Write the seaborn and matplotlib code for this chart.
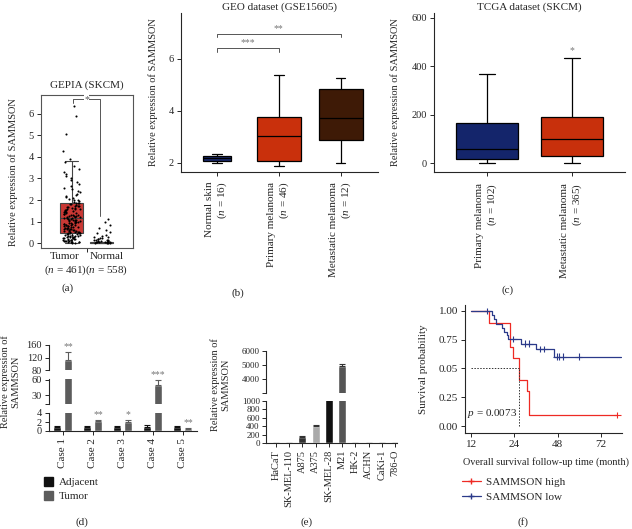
import numpy as np
import pandas as pd
import matplotlib
matplotlib.use("Agg")
import matplotlib.pyplot as plt
import seaborn as sns
from matplotlib.lines import Line2D
from matplotlib.patches import Patch

# -------------------------
# DATA
# -------------------------
# (a) GEPIA (SKCM)
gepia_groups = ["Tumor", "Normal"]
gepia_ticklabels = ["Tumor\n($\\mathit{n}$ = 461)", "Normal\n($\\mathit{n}$ = 558)"]
gepia_box_tumor = [0.02, 0.45, 1.15, 1.85, 3.8]
gepia_box_normal = [0.0, 0.01, 0.02, 0.04, 0.06]
gepia_pts_tumor = [
    0.01, 0.02, 0.03, 0.04, 0.05, 0.07, 0.08, 0.1, 0.11, 0.13, 0.14, 0.16, 0.18, 0.19, 0.21,
    0.23, 0.24, 0.26, 0.28, 0.3, 0.31, 0.33, 0.35, 0.36, 0.38, 0.4, 0.41, 0.43, 0.45, 0.47,
    0.48, 0.5, 0.52, 0.53, 0.55, 0.57, 0.59, 0.6, 0.62, 0.64, 0.66, 0.67, 0.69, 0.71, 0.73,
    0.74, 0.76, 0.78, 0.8, 0.82, 0.84, 0.85, 0.87, 0.89, 0.91, 0.93, 0.95, 0.97, 0.99, 1.01,
    1.03, 1.05, 1.07, 1.09, 1.11, 1.13, 1.15, 1.17, 1.19, 1.21, 1.23, 1.26, 1.28, 1.3, 1.32,
    1.35, 1.37, 1.4, 1.42, 1.45, 1.47, 1.5, 1.53, 1.56, 1.58, 1.61, 1.64, 1.67, 1.7, 1.74,
    1.77, 1.8, 1.84, 1.88, 1.92, 1.96, 2.0, 2.05, 2.1, 2.14, 2.2, 2.25, 2.3, 2.36, 2.42,
    2.5, 2.57, 2.65, 2.74, 2.83, 2.92, 3.0, 3.1, 3.2, 3.32, 3.45, 3.6, 3.75, 3.9, 4.3,
    5.05, 5.9, 6.35,
    0.06, 0.15, 0.27, 0.39, 0.51, 0.63, 0.77, 0.9, 1.02, 1.16, 1.29, 1.43, 1.57, 1.72, 1.86,
    0.09, 0.22, 0.34, 0.46, 0.58, 0.7, 0.83, 0.96, 1.08, 1.24, 1.38, 1.52, 1.66, 1.82, 1.98,
]
gepia_pts_normal = [
    0.0, 0.01, 0.02, 0.02, 0.03, 0.04, 0.05, 0.05, 0.06, 0.07, 0.08, 0.09, 0.1, 0.11, 0.12,
    0.13, 0.15, 0.16, 0.18, 0.2, 0.22, 0.25, 0.28, 0.3, 0.33, 0.38, 0.45, 0.5, 0.6, 0.7,
    0.85, 1.0, 1.1,
]

# (b) GEO dataset (GSE15605) - whisker low, Q1, median, Q3, whisker high
geo_groups = ["Normal skin", "Primary melanoma", "Metastatic melanoma"]
geo_n = [16, 46, 12]
geo_normal = [2.0, 2.07, 2.17, 2.27, 2.35]
geo_primary = [1.9, 2.08, 3.02, 3.75, 5.4]
geo_metastatic = [2.0, 2.9, 3.72, 4.85, 5.28]

# (c) TCGA dataset (SKCM)
tcga_groups = ["Primary melanoma", "Metastatic melanoma"]
tcga_n = [102, 365]
tcga_primary = [0, 15, 60, 165, 368]
tcga_metastatic = [0, 30, 98, 192, 435]

# (d) paired tissues
case_labels = ["Case 1", "Case 2", "Case 3", "Case 4", "Case 5"]
adjacent_mean = [0.95, 1.0, 0.95, 1.0, 1.0]
adjacent_err = [0.12, 0.15, 0.15, 0.25, 0.12]
tumor_mean = [111, 2.2, 1.9, 50, 0.5]
tumor_err = [28, 0.35, 0.5, 9, 0.18]
case_stars = ["**", "**", "*", "***", "**"]

# (e) cell lines
cell_lines = ["HaCaT", "SK-MEL-110", "A875", "A375", "SK-MEL-28", "M21",
              "HK-2", "ACHN", "CaKi-1", "786-O"]
cell_expr = [1, 2, 150, 410, 1100, 4950, 1, 1, 1, 1]
cell_err = [0, 0, 20, 15, 0, 150, 0, 0, 0, 0]

# (f) Kaplan-Meier (x in axis units; ticks read 12, 24, 48, 72)
km_high_time = [12, 17.0, 22.8, 23.7, 25.3, 27.6, 27.9, 52.5]
km_high_surv = [1.0, 0.893, 0.69, 0.594, 0.40, 0.30, 0.095, 0.095]
km_low_time = [12, 17.8, 18.3, 18.8, 20.6, 21.2, 21.8, 22.3, 25.8, 30.1, 34.9, 53.6]
km_low_surv = [1.0, 0.965, 0.93, 0.885, 0.85, 0.82, 0.79, 0.755, 0.715, 0.667, 0.603, 0.603]
km_high_cens_time = [52.5]
km_high_cens_surv = [0.095]
km_low_cens_time = [16.5, 23.7, 27.0, 28.1, 31.1, 32.3, 35.7, 36.4, 37.4, 41.8]
km_low_cens_surv = [1.0, 0.755, 0.715, 0.715, 0.667, 0.667, 0.603, 0.603, 0.603, 0.603]
km_median = 25.3
km_xticklabels = ["12", "24", "48", "72"]
km_yticklabels = ["0.00", "0.25", "0.05", "0.75", "1.00"]

# -------------------------
# STYLE
# -------------------------
sns.set_style("ticks")
plt.rcParams["font.family"] = ["Liberation Serif", "DejaVu Serif"]
plt.rcParams["mathtext.fontset"] = "custom"
plt.rcParams["mathtext.rm"] = "Liberation Serif"
plt.rcParams["mathtext.it"] = "Liberation Serif:italic"
plt.rcParams["font.size"] = 7.5
plt.rcParams["axes.linewidth"] = 0.8
for k in ["xtick", "ytick"]:
    plt.rcParams[k + ".major.size"] = 3
    plt.rcParams[k + ".major.width"] = 0.7
    plt.rcParams[k + ".minor.size"] = 3
    plt.rcParams[k + ".minor.width"] = 0.7
    plt.rcParams[k + ".labelsize"] = 7.5
    plt.rcParams[k + ".major.pad"] = 2

W, H = 632, 529
fig = plt.figure(figsize=(W / 100, H / 100), dpi=100)


def add_ax(l, t, r, b):
    return fig.add_axes([l / W, 1 - b / H, (r - l) / W, (b - t) / H])


def ptext(x, y, s, **kw):
    fig.text(x / W, 1 - y / H, s, ha="center", va="center", **kw)


def open_axes(ax):
    sns.despine(ax=ax)
    ax.set_xlabel("")
    ax.set_ylabel("")


star_col = "#777777"

# -------------------------
# (a) GEPIA
# -------------------------
ax = add_ax(41, 95, 133, 248)
df_box = pd.DataFrame({"group": ["Tumor"] * 5 + ["Normal"] * 5,
                       "value": gepia_box_tumor + gepia_box_normal})
sns.boxplot(data=df_box, x="group", y="value", order=gepia_groups, hue="group",
            palette={"Tumor": "#e3201b", "Normal": "#bbbbbb"}, width=0.77,
            whis=(0, 100), showfliers=False, linecolor="#444444", linewidth=0.8,
            capwidths=0.45, legend=False, ax=ax)
np.random.seed(3)
df_pts = pd.DataFrame({"group": ["Tumor"] * len(gepia_pts_tumor) + ["Normal"] * len(gepia_pts_normal),
                       "value": gepia_pts_tumor + gepia_pts_normal})
sns.stripplot(data=df_pts, x="group", y="value", order=gepia_groups, color="black",
              size=1.5, jitter=0.3, linewidth=0, ax=ax)
ax.set_xlim(-1.02, 2.05)
ax.set_ylim(-0.23, 6.88)
ax.set_yticks(range(7))
ax.set_xticks([-0.22, 1.18])
ax.set_xticklabels(gepia_ticklabels, fontsize=8)
ax.tick_params(axis="x", length=0, pad=3)
ax.set_xticks([0.5], minor=True)
ax.set_xlabel("")
ax.set_ylabel("")
for s in ax.spines.values():
    s.set_color("#555555")
ax.plot([0.04, 0.04, 0.95, 0.95], [6.5, 6.68, 6.68, 1.25], color="#555555", lw=0.7)
ax.text(0.5, 6.68, "*", ha="center", va="center", fontsize=7, color="#555555",
        bbox=dict(fc="white", ec="none", pad=0.3))
ax.set_title("GEPIA (SKCM)", fontsize=8, pad=5)
ptext(13, 172, "Relative expression of SAMMSON", rotation=90, fontsize=7.5)
ptext(68, 288, "(a)", fontsize=8)

# -------------------------
# (b) GEO
# -------------------------
ax = add_ax(181, 13, 378, 172)
geo_vals = [geo_normal, geo_primary, geo_metastatic]
geo_cols = ["#1b2a6b", "#c9300c", "#3e1a06"]
geo_widths = [0.45, 0.7, 0.7]
for g, v, c, w in zip(geo_groups, geo_vals, geo_cols, geo_widths):
    d = pd.DataFrame({"group": [g] * len(v), "value": v})
    sns.boxplot(data=d, x="group", y="value", order=geo_groups, color=c, width=w,
                whis=(0, 100), showfliers=False, saturation=1, linecolor="black",
                linewidth=0.9, capwidths=0.15, ax=ax)
ax.set_xlim(-0.58, 2.6)
ax.set_ylim(1.65, 7.77)
ax.set_yticks([2, 4, 6])
ax.set_xticks(range(3))
ax.set_xticklabels([f"{g}\n($\\mathit{{n}}$ = {n})" for g, n in zip(geo_groups, geo_n)],
                   rotation=90, va="top", ha="center", multialignment="right", fontsize=8)
ax.tick_params(axis="x", pad=4)
open_axes(ax)
ax.plot([0, 0, 1, 1], [6.27, 6.42, 6.42, 6.27], color="#555555", lw=0.7)
ax.plot([0, 0, 2, 2], [6.85, 6.96, 6.96, 6.85], color="#555555", lw=0.7)
ax.text(0.5, 6.47, "***", ha="center", va="bottom", fontsize=7, color=star_col)
ax.text(1.0, 7.01, "**", ha="center", va="bottom", fontsize=7, color=star_col)
ax.set_title("GEO dataset (GSE15605)", fontsize=8, pad=2)
ptext(153, 92, "Relative expression of SAMMSON", rotation=90, fontsize=7.5)
ptext(238, 293, "(b)", fontsize=8)

# -------------------------
# (c) TCGA
# -------------------------
ax = add_ax(434, 13, 625, 172)
tcga_cols = ["#14256b", "#c8300c"]
df_c = pd.DataFrame({"group": [tcga_groups[0]] * 5 + [tcga_groups[1]] * 5,
                     "value": tcga_primary + tcga_metastatic})
sns.boxplot(data=df_c, x="group", y="value", order=tcga_groups, hue="group",
            palette=dict(zip(tcga_groups, tcga_cols)), width=0.72, whis=(0, 100),
            showfliers=False, saturation=1, linecolor="black", linewidth=0.9,
            capwidths=0.18, legend=False, ax=ax)
ax.set_xlim(-0.62, 1.62)
ax.set_ylim(-37, 620)
ax.set_yticks([0, 200, 400, 600])
ax.set_xticks(range(2))
ax.set_xticklabels([f"{g}\n($\\mathit{{n}}$ = {n})" for g, n in zip(tcga_groups, tcga_n)],
                   rotation=90, va="top", ha="center", multialignment="right", fontsize=8)
ax.tick_params(axis="x", pad=5)
open_axes(ax)
ax.text(1, 445, "*", ha="center", va="bottom", fontsize=7, color=star_col)
ax.set_title("TCGA dataset (SKCM)", fontsize=8, pad=2)
ptext(395, 92, "Relative expression of SAMMSON", rotation=90, fontsize=7.5)
ptext(508, 290, "(c)", fontsize=8)

# -------------------------
# (d) paired tissues, broken y axis
# -------------------------
d_df = pd.DataFrame({
    "case": case_labels * 2,
    "group": ["Adjacent"] * 5 + ["Tumor"] * 5,
    "value": adjacent_mean + tumor_mean,
    "err": adjacent_err + tumor_err,
})
d_pal = {"Adjacent": "#111111", "Tumor": "#5c5c5c"}
d_segs = [(345, 370, 80, 160, [80, 120, 160], None),
          (379, 404, 13, 61, [30, 60], 13),
          (413, 431, 0, 4, [0, 2, 4], None)]
d_axes = []
for i, (top, bot, lo, hi, ticks, mtick) in enumerate(d_segs):
    a = add_ax(49, top, 197, bot)
    sns.barplot(data=d_df, x="case", y="value", hue="group", palette=d_pal, saturation=1,
                width=0.75, gap=0.25, errorbar=None, legend=False, ax=a)
    for cont, grp in zip(a.containers, ["Adjacent", "Tumor"]):
        sub = d_df[d_df["group"] == grp]
        xs = [b.get_x() + b.get_width() / 2 for b in cont]
        a.errorbar(xs, sub["value"], yerr=[np.zeros(len(sub)), sub["err"]], fmt="none",
                   ecolor=d_pal[grp], elinewidth=0.8, capsize=2, capthick=0.8)
    a.set_ylim(lo, hi)
    a.set_yticks(ticks)
    if mtick is not None:
        a.set_yticks([mtick], minor=True)
    a.set_xlim(-0.45, 4.48)
    open_axes(a)
    if i < 2:
        a.spines["bottom"].set_visible(False)
        a.tick_params(axis="x", bottom=False, labelbottom=False)
    else:
        a.tick_params(axis="x", labelrotation=90, labelsize=8)
    d_axes.append(a)

for i, (m, e, s) in enumerate(zip(tumor_mean, tumor_err, case_stars)):
    top = m + e
    for a, seg in zip(d_axes, d_segs):
        if seg[2] <= top <= seg[3]:
            b = a.containers[1][i]
            a.annotate(s, (b.get_x() + b.get_width() / 2, top), xytext=(0, 0.5),
                       textcoords="offset points", ha="center", va="bottom", fontsize=7,
                       color=star_col, annotation_clip=False)
            break

fig.legend(handles=[Patch(color=d_pal["Adjacent"]), Patch(color=d_pal["Tumor"])],
           labels=["Adjacent", "Tumor"], loc="upper left", bbox_to_anchor=(44 / W, 1 - 477 / H),
           frameon=False, handlelength=0.8, handleheight=0.8, handletextpad=0.5,
           labelspacing=0.35, fontsize=8, borderaxespad=0, borderpad=0)
ptext(10, 382, "Relative expression of\nSAMMSON", rotation=90, fontsize=7.5)
ptext(82, 522, "(d)", fontsize=8)

# -------------------------
# (e) cell lines, broken y axis
# -------------------------
e_cols = ["#777777", "#777777", "#333333", "#aaaaaa", "#111111", "#555555",
          "#777777", "#777777", "#777777", "#777777"]
e_segs = [(351, 393, 3000, 6000, [4000, 5000, 6000], 3000),
          (401, 443, 0, 1000, [0, 200, 400, 600, 800, 1000], None)]
for i, (top, bot, lo, hi, ticks, mtick) in enumerate(e_segs):
    a = add_ax(266, top, 397, bot)
    sns.barplot(x=cell_lines, y=cell_expr, hue=cell_lines, palette=e_cols, saturation=1,
                width=0.6, legend=False, ax=a)
    xs = [b.get_x() + b.get_width() / 2 for c in a.containers for b in c]
    a.errorbar(xs, cell_expr, yerr=[np.zeros(len(cell_err)), cell_err], fmt="none",
               ecolor="#333333", elinewidth=0.8, capsize=2, capthick=0.8)
    a.set_ylim(lo, hi)
    a.set_yticks(ticks)
    a.tick_params(axis="y", labelsize=6.5, pad=1.5)
    if mtick is not None:
        a.set_yticks([mtick], minor=True)
    a.set_xlim(-0.75, 9.15)
    open_axes(a)
    if i == 0:
        a.spines["bottom"].set_visible(False)
        a.tick_params(axis="x", bottom=False, labelbottom=False)
    else:
        a.tick_params(axis="x", labelrotation=90, labelsize=7.5)
ptext(220, 385, "Relative expression of\nSAMMSON", rotation=90, fontsize=7.5)
ptext(307, 522, "(e)", fontsize=8)

# -------------------------
# (f) Kaplan-Meier
# -------------------------
ax = add_ax(465, 305, 622, 433)
km_pal = {"SAMMSON high": "#ee2a24", "SAMMSON low": "#2b3a8a"}
km_df = pd.concat([
    pd.DataFrame({"time": km_high_time, "surv": km_high_surv, "group": "SAMMSON high"}),
    pd.DataFrame({"time": km_low_time, "surv": km_low_surv, "group": "SAMMSON low"}),
])
cens_df = pd.concat([
    pd.DataFrame({"time": km_high_cens_time, "surv": km_high_cens_surv, "group": "SAMMSON high"}),
    pd.DataFrame({"time": km_low_cens_time, "surv": km_low_cens_surv, "group": "SAMMSON low"}),
])
sns.lineplot(data=km_df, x="time", y="surv", hue="group", palette=km_pal, estimator=None,
             drawstyle="steps-post", linewidth=0.9, legend=False, ax=ax)
sns.scatterplot(data=cens_df, x="time", y="surv", hue="group", palette=km_pal, marker="+",
                s=22, linewidth=0.8, legend=False, ax=ax)
ax.plot([12, km_median], [0.5, 0.5], ls=(0, (1.5, 1.5)), color="#333333", lw=0.7)
ax.plot([km_median, km_median], [0, 0.5], ls=(0, (1.5, 1.5)), color="#333333", lw=0.7)
ax.text(10.9, 0.11, "$\\mathit{p}$ = 0.0073", ha="left", va="center", fontsize=8)
ax.set_xlim(10.3, 53.8)
ax.set_ylim(-0.06, 1.05)
ax.set_xticks([12, 24, 36, 48])
ax.set_xticklabels(km_xticklabels)
ax.set_yticks([0, 0.25, 0.5, 0.75, 1.0])
ax.set_yticklabels(km_yticklabels)
ax.tick_params(labelsize=8)
open_axes(ax)
ptext(424, 369, "Survival probability", rotation=90, fontsize=8)
ptext(546, 462, "Overall survival follow-up time (month)", fontsize=7.4)
fig.legend(handles=[Line2D([], [], color=km_pal["SAMMSON high"], marker="+", markersize=5, lw=0.9),
                    Line2D([], [], color=km_pal["SAMMSON low"], marker="+", markersize=5, lw=0.9)],
           labels=["SAMMSON high", "SAMMSON low"], loc="upper left",
           bbox_to_anchor=(462 / W, 1 - 477 / H), frameon=False, handlelength=1.7,
           handletextpad=0.5, labelspacing=0.45, fontsize=8, borderaxespad=0, borderpad=0)
ptext(523, 522, "(f)", fontsize=8)

fig.savefig("out.png", dpi=100)
